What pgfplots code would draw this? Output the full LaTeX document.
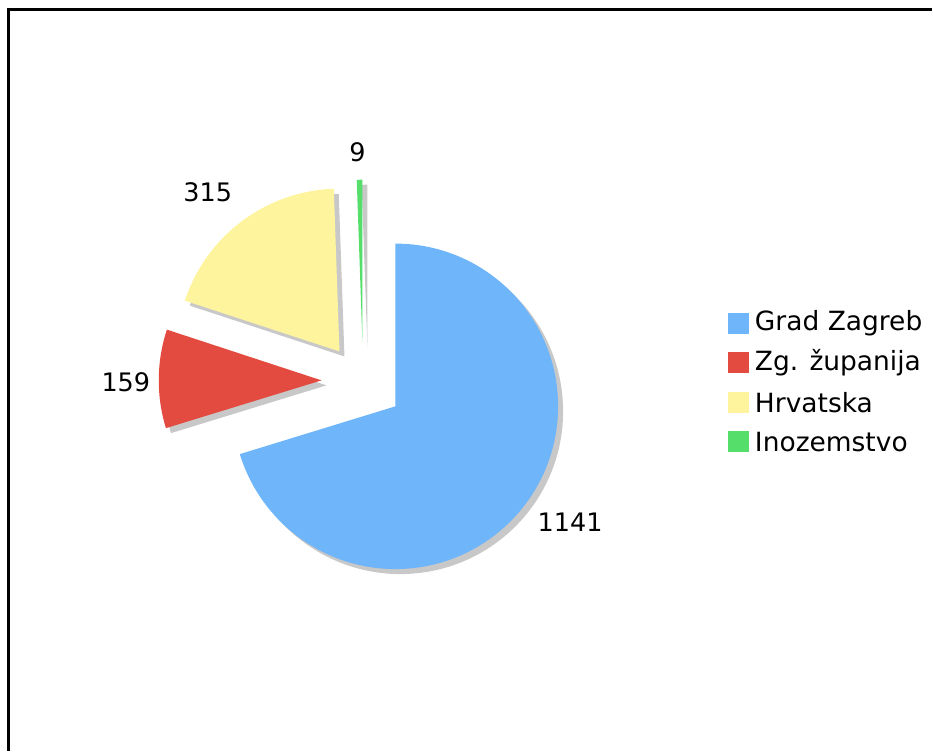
\documentclass[border=0pt]{standalone}
\usepackage{pgfplots}
\pgfplotsset{compat=1.18}
\usepackage{pgfplotstable}
\usepackage{fontspec}
\setmainfont{DejaVu Sans}
\definecolor{cA}{RGB}{111,181,250}
\definecolor{cB}{RGB}{228,75,64}
\definecolor{cC}{RGB}{255,244,158}
\definecolor{cD}{RGB}{86,222,106}
\definecolor{shad}{RGB}{200,200,200}

% value, tip of the (exploded) slice, label position (y measured upwards)
\pgfplotstableread{
idx value tipx tipy lx ly
0 1141 396 345 571 229
1 159 322 371 126 369
2 315 340 400 208 559
3 9 363 409 358 600
}\piedata

\newcommand\getrow[2]{%
  \pgfplotstablegetelem{#1}{value}\of\piedata \expandafter\xdef\csname v#2\endcsname{\pgfplotsretval}%
  \pgfplotstablegetelem{#1}{tipx}\of\piedata \expandafter\xdef\csname tx#2\endcsname{\pgfplotsretval}%
  \pgfplotstablegetelem{#1}{tipy}\of\piedata \expandafter\xdef\csname ty#2\endcsname{\pgfplotsretval}%
  \pgfplotstablegetelem{#1}{lx}\of\piedata \expandafter\xdef\csname lx#2\endcsname{\pgfplotsretval}%
  \pgfplotstablegetelem{#1}{ly}\of\piedata \expandafter\xdef\csname ly#2\endcsname{\pgfplotsretval}%
}
\newcommand\slice[5]{% tipx tipy a1 a2 options
  \fill[#5] (axis cs:#1,#2) -- ++(#3:163pt) arc[start angle=#3, end angle=#4, radius=163pt] -- cycle;}

\begin{document}
\begin{tikzpicture}
\getrow{0}{A}\getrow{1}{B}\getrow{2}{C}\getrow{3}{D}
\pgfmathsetmacro\tot{\vA+\vB+\vC+\vD}
\pgfmathsetmacro\aA{90}
\pgfmathsetmacro\aB{\aA-360*(\vA/\tot)}
\pgfmathsetmacro\aC{\aB-360*(\vB/\tot)}
\pgfmathsetmacro\aD{\aC-360*(\vC/\tot)}
\pgfmathsetmacro\aE{\aD-360*(\vD/\tot)}
\begin{axis}[x=1pt, y=1pt, xmin=0, xmax=933, ymin=0, ymax=752,
  scale only axis, hide axis, clip=false, anchor=origin, at={(0,0)}]
\path (axis cs:0,0) rectangle (axis cs:933,752);
% frame
\draw[line width=3pt, line join=miter] (axis cs:8.5,0) -- (axis cs:8.5,742) -- (axis cs:933,742);
% shadows
\slice{\txA}{\tyA}{\aA}{\aB}{shad, xshift=5pt, yshift=-5pt}
\slice{\txB}{\tyB}{\aB}{\aC}{shad, xshift=5pt, yshift=-5pt}
\slice{\txC}{\tyC}{\aC}{\aD}{shad, xshift=5pt, yshift=-5pt}
\slice{\txD}{\tyD}{\aD}{\aE}{shad, xshift=5pt, yshift=-5pt}
% slices
\slice{\txA}{\tyA}{\aA}{\aB}{cA}
\slice{\txB}{\tyB}{\aB}{\aC}{cB}
\slice{\txC}{\tyC}{\aC}{\aD}{cC}
\slice{\txD}{\tyD}{\aD}{\aE}{cD}
% value labels
\node[font=\fontsize{25.5}{30}\selectfont, inner sep=0pt] at (axis cs:\lxA,\lyA) {\vA};
\node[font=\fontsize{25.5}{30}\selectfont, inner sep=0pt] at (axis cs:\lxB,\lyB) {\vB};
\node[font=\fontsize{25.5}{30}\selectfont, inner sep=0pt] at (axis cs:\lxC,\lyC) {\vC};
\node[font=\fontsize{25.5}{30}\selectfont, inner sep=0pt] at (axis cs:\lxD,\lyD) {\vD};
% legend
\fill[cA] (axis cs:729,417.5) rectangle (axis cs:750,438.5);
\fill[cB] (axis cs:729,378) rectangle (axis cs:750,399);
\fill[cC] (axis cs:729,338.5) rectangle (axis cs:750,359.5);
\fill[cD] (axis cs:729,299) rectangle (axis cs:750,320);
\node[font=\fontsize{26.5}{30}\selectfont, anchor=west, inner sep=0pt] at (axis cs:756,428) {Grad Zagreb};
\node[font=\fontsize{26.5}{30}\selectfont, anchor=west, inner sep=0pt] at (axis cs:756,388.5) {Zg. županija};
\node[font=\fontsize{26.5}{30}\selectfont, anchor=west, inner sep=0pt] at (axis cs:756,349) {Hrvatska};
\node[font=\fontsize{26.5}{30}\selectfont, anchor=west, inner sep=0pt] at (axis cs:756,309.5) {Inozemstvo};
\end{axis}
\end{tikzpicture}
\end{document}
